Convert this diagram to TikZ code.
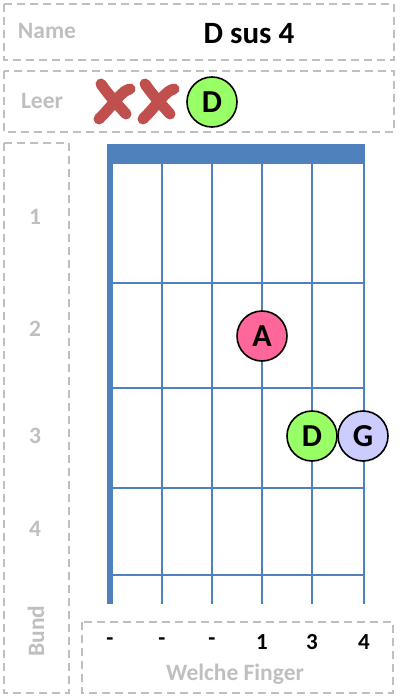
\documentclass[tikz,border=0pt]{standalone}
\usepackage{fontspec}
\setmainfont{Carlito}
\definecolor{lblgray}{HTML}{BFBFBF}
\definecolor{gridblue}{HTML}{4F81BD}
\definecolor{xred}{HTML}{C0504D}
\definecolor{dgreen}{HTML}{99FF66}
\definecolor{apink}{HTML}{FF6699}
\definecolor{glav}{HTML}{CCCCFF}
\tikzset{
  dbox/.style={draw=lblgray, line width=1.8pt, dash pattern=on 8pt off 5pt},
  lbl/.style={text=lblgray, font=\fontsize{23.5}{26}\selectfont\bfseries, inner sep=0pt},
  fing/.style={font=\fontsize{23}{25}\selectfont\bfseries, inner sep=0pt},
  note/.style={circle, draw=black, line width=1.6pt, minimum size=50pt, inner sep=0pt, font=\fontsize{32}{34}\selectfont\bfseries},
  xstroke/.style={draw=xred, line width=11pt, line cap=round},
  gridline/.style={draw=gridblue, line width=2pt},
}
\begin{document}
\begin{tikzpicture}[x=1pt, y=-1pt]
\useasboundingbox (0,0) rectangle (401,700);
% dashed boxes
\draw[dbox] (4,4) rectangle (394,60);
\draw[dbox] (4,71) rectangle (394,132);
\draw[dbox] (4,143) rectangle (69,693);
\draw[dbox] (82,622) rectangle (393,693);
% labels
\node[lbl] (name) at (47,31) {Name};
\node[font=\fontsize{31}{34}\selectfont\bfseries, inner sep=0pt] (title) at (249,34) {D sus 4};
\node[lbl] (leer) at (42,101) {Leer};
\node[lbl, rotate=90] (bund) at (36,631) {Bund};
\node[lbl] (f1) at (35,217) {1};
\node[lbl] (f2) at (35,329) {2};
\node[lbl] (f3) at (35,436) {3};
\node[lbl] (f4) at (35,529) {4};
\node[lbl] (welche) at (235,674) {Welche Finger};
% fingers
\foreach \x/\t [count=\i] in {110/-,162/-,212/-,262/1,312/3,364/4}
  \node[fing] (fg\i) at (\x,642) {\t};
% grid
\fill[gridblue] (107,144) rectangle (365,164);
\fill[gridblue] (107,144) rectangle (113,604);
\foreach \x in {162,212,262,312,364}
  \draw[gridline] (\x,164) -- (\x,604);
\foreach \y in {283,388,488,575}
  \draw[gridline] (113,\y) -- (364,\y);
% muted strings
\foreach \cx in {113,157}{
  \begin{scope}[shift={(\cx,101)}]
    \draw[xstroke] (-12,-17) .. controls (-4,-6) .. (13,13);
    \draw[xstroke] (-14,18) .. controls (2,2) and (8,-10) .. (17,-12);
  \end{scope}
}
% notes
\node[note, fill=dgreen] (open) at (212,102) {D};
\node[note, fill=apink] (na) at (262,336) {A};
\node[note, fill=dgreen] (nd) at (312,436) {D};
\node[note, fill=glav] (ng) at (363,436) {G};
\end{tikzpicture}
\end{document}
